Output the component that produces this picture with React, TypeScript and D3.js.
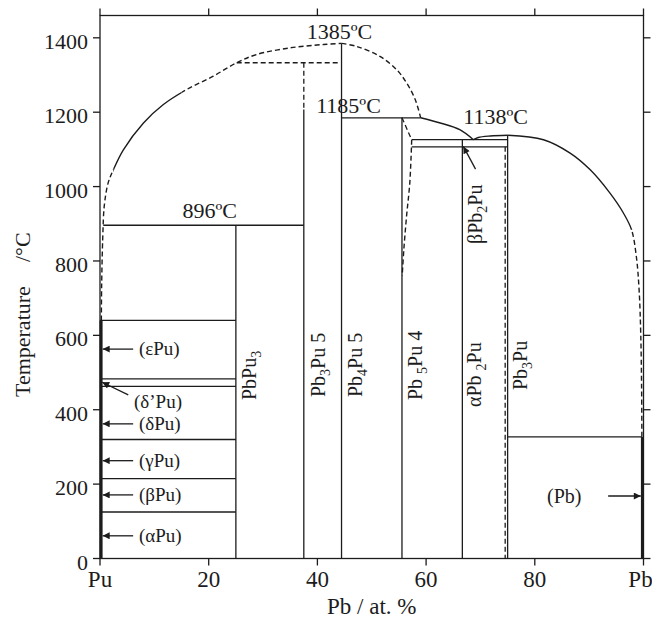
import React from "react";
import * as d3 from "d3";

const W = 652;
const H = 626;

// Axis ticks
const xTicks = [0, 20, 40, 60, 80, 100];
const xTickLabels = ["Pu", "20", "40", "60", "80", "Pb"];
const yTicks = [0, 200, 400, 600, 800, 1000, 1200, 1400];

// Liquidus, [at.% Pb, °C]
const liqLeft = [
  [0.25, 640], [0.3, 731], [0.5, 860], [0.8, 950], [1.5, 1010], [2.45, 1045], [4.3, 1099],
  [8.0, 1171], [11.6, 1220], [15.95, 1261], [20.85, 1297], [25.15, 1333], [28.8, 1355],
  [35.0, 1373], [41.1, 1382], [44.44, 1385],
];
const liqLeftSolidFrom = 2.45;
const liqLeftSolidTo = 15.0;
const liqDomeRight = [[44.44, 1385], [47.2, 1377], [51.5, 1350], [54.6, 1314], [56.4, 1279], [58.0, 1234], [59.0, 1185]];
const liqToEutectic = [[59.0, 1185], [62.6, 1171], [66.2, 1153], [68.7, 1126]];
const liqPb3PuLeft = [[68.7, 1126], [69.6, 1132], [71.8, 1136], [75, 1138]];
const liqPb3PuRight = [
  [75, 1138], [81.6, 1126], [86.5, 1090], [90.2, 1045], [93.8, 983], [96.3, 929], [97.8, 884],
  [98.7, 810], [99.2, 720], [99.5, 600], [99.65, 460], [99.7, 327],
];
const liqRightSolidAbove = 884;
const pb5pu4Range = [[57.35, 1126], [57.0, 1010], [56.4, 920], [55.9, 830], [55.6, 760]];

// Compounds: composition, upper end of the solid line
const compoundX = [25, 37.5, 44.44, 55.56, 66.67, 75];
const compoundTop = [896, 1207, 1385, 1185, 1126, 1138];

// Invariant temperatures of pure Pu (drawn from Pu to PbPu3)
const puTransitions = [640, 483, 463, 320, 215, 125];
const puPhaseLabels = ["(εPu)", "(δPu)", "(γPu)", "(βPu)", "(αPu)"];
const puPhaseTemps = [563, 362, 263, 171, 61];

const tempLabels = ["1385ºC", "1185ºC", "1138ºC", "896ºC"];
const tempValues = [1385, 1185, 1138, 896];

const x = d3.scaleLinear().domain([0, 100]).range([100, 643.5]);
const y = d3.scaleLinear().domain([0, 1460]).range([558.5, 15.5]);

const INK = "#1c1c1c";
const FONT = "'Liberation Serif', 'Times New Roman', serif";
const DASH = "5 3";

const curve = d3
  .line<number[]>()
  .x((d) => x(d[0]))
  .y((d) => y(d[1]))
  .curve(d3.curveCatmullRom.alpha(0.5));

function Seg({ x1, t1, x2, t2, dashed = false, w = 1.3 }: any) {
  return (
    <line
      x1={x(x1)}
      y1={y(t1)}
      x2={x(x2)}
      y2={y(t2)}
      stroke={INK}
      strokeWidth={w}
      strokeDasharray={dashed ? DASH : undefined}
    />
  );
}

function Curve({ pts, dashed = false, clip }: any) {
  return (
    <path
      d={curve(pts) || ""}
      fill="none"
      stroke={INK}
      strokeWidth={1.4}
      strokeDasharray={dashed ? DASH : undefined}
      clipPath={clip ? `url(#${clip})` : undefined}
    />
  );
}

function Arrow({ x1, t1, x2, t2 }: any) {
  return (
    <line
      x1={x(x1)}
      y1={y(t1)}
      x2={x(x2)}
      y2={y(t2)}
      stroke={INK}
      strokeWidth={1.3}
      markerEnd="url(#ah)"
    />
  );
}

// Vertical compound label with a subscript part
function Formula({ px, py, pre, sub, post }: any) {
  return (
    <text
      transform={`translate(${px},${py}) rotate(-90)`}
      fontFamily={FONT}
      fontSize={20}
      fill={INK}
    >
      <tspan>{pre}</tspan>
      <tspan fontSize={14} dy={5}>{sub}</tspan>
      <tspan dy={-5}>{post}</tspan>
    </text>
  );
}

export default function App() {
  const xL = x(0);
  const xR = x(100);
  const yB = y(0);
  const yT = 15.5;
  const tick = 7;

  const xs1 = x(liqLeftSolidFrom);
  const xs2 = x(liqLeftSolidTo);
  const yr = y(liqRightSolidAbove);

  return (
    <svg
      width={W}
      height={H}
      viewBox={`0 0 ${W} ${H}`}
      style={{ position: "absolute", left: 0, top: 0, background: "#fff" }}
    >
      <defs>
        <marker
          id="ah"
          viewBox="0 0 10 10"
          refX={10}
          refY={5}
          markerUnits="userSpaceOnUse"
          markerWidth={11}
          markerHeight={7}
          orient="auto"
        >
          <path d="M0,0 L10,5 L0,10 z" fill={INK} />
        </marker>
        <clipPath id="leftSolid">
          <rect x={xs1} y={0} width={xs2 - xs1} height={H} />
        </clipPath>
        <clipPath id="leftDashed">
          <rect x={0} y={0} width={xs1} height={H} />
          <rect x={xs2} y={0} width={W - xs2} height={H} />
        </clipPath>
        <clipPath id="rightSolid">
          <rect x={0} y={0} width={W} height={yr} />
        </clipPath>
        <clipPath id="rightDashed">
          <rect x={0} y={yr} width={W} height={H - yr} />
        </clipPath>
      </defs>

      {/* frame */}
      <rect x={xL} y={yT} width={xR - xL} height={yB - yT} fill="none" stroke={INK} strokeWidth={1.3} />

      {/* ticks */}
      {xTicks.map((v) => (
        <g key={"xt" + v}>
          <line x1={x(v)} x2={x(v)} y1={yB} y2={yB + tick} stroke={INK} strokeWidth={1.3} />
          <line x1={x(v)} x2={x(v)} y1={yT} y2={yT - tick} stroke={INK} strokeWidth={1.3} />
        </g>
      ))}
      {yTicks.map((v) => (
        <g key={"yt" + v}>
          <line x1={xL} x2={xL - tick} y1={y(v)} y2={y(v)} stroke={INK} strokeWidth={1.3} />
          <line x1={xR} x2={xR + tick} y1={y(v)} y2={y(v)} stroke={INK} strokeWidth={1.3} />
        </g>
      ))}

      {/* tick labels */}
      {xTicks.map((v, i) => (
        <text
          key={"xl" + v}
          x={v === 100 ? x(v) - 3 : x(v)}
          y={587}
          textAnchor="middle"
          fontFamily={FONT}
          fontSize={23}
          fill={INK}
        >
          {xTickLabels[i]}
        </text>
      ))}
      {yTicks.map((v) => (
        <text key={"yl" + v} x={88} y={y(v) + 11} textAnchor="end" fontFamily={FONT} fontSize={22} fill={INK}>
          {v}
        </text>
      ))}

      {/* axis titles */}
      <text x={x(50)} y={614} textAnchor="middle" fontFamily={FONT} fontSize={23} fill={INK}>
        Pb / at. %
      </text>
      <text transform="translate(29.5,397) rotate(-90)" fontFamily={FONT} fontSize={22} fill={INK}>
        Temperature
      </text>
      <text transform="translate(29.5,262) rotate(-90)" fontFamily={FONT} fontSize={22} fill={INK}>
        /°C
      </text>

      {/* pure Pu and pure Pb solid solutions */}
      <Seg x1={0.2} t1={0} x2={0.2} t2={640} w={3} />
      <Seg x1={99.8} t1={0} x2={99.8} t2={327} w={3} />

      {/* Pu allotropic transitions */}
      {puTransitions.map((t) => (
        <Seg key={"pt" + t} x1={0} t1={t} x2={25} t2={t} />
      ))}

      {/* eutectic / peritectic horizontals */}
      <Seg x1={0.6} t1={896} x2={37.5} t2={896} />
      <Seg x1={25.15} t1={1333} x2={44.0} t2={1333} dashed />
      <Seg x1={44.44} t1={1185} x2={59.0} t2={1185} />
      <Seg x1={57.35} t1={1126} x2={75} t2={1126} />
      <Seg x1={57.35} t1={1107} x2={75} t2={1107} />
      <Seg x1={75} t1={327} x2={99.7} t2={327} />

      {/* compound lines */}
      {compoundX.map((c, i) =>
        c === 37.5 ? (
          <g key={"c" + c}>
            <Seg x1={c} t1={1333} x2={c} t2={1207} dashed />
            <Seg x1={c} t1={1207} x2={c} t2={0} />
          </g>
        ) : (
          <Seg key={"c" + c} x1={c} t1={compoundTop[i]} x2={c} t2={0} />
        )
      )}
      <Seg x1={74.55} t1={1107} x2={74.55} t2={0} dashed />

      {/* Pb5Pu4 homogeneity range */}
      <Seg x1={55.56} t1={1185} x2={57.35} t2={1126} dashed />
      <Curve pts={pb5pu4Range} dashed />

      {/* liquidus */}
      <Curve pts={liqLeft} dashed clip="leftDashed" />
      <Curve pts={liqLeft} clip="leftSolid" />
      <Curve pts={liqDomeRight} dashed />
      <Curve pts={liqToEutectic} />
      <Curve pts={liqPb3PuLeft} />
      <Curve pts={liqPb3PuRight} clip="rightSolid" />
      <Curve pts={liqPb3PuRight} dashed clip="rightDashed" />

      {/* invariant temperature labels */}
      {tempLabels.map((s, i) => {
        const pos = [
          [x(44.44) - 2, y(tempValues[0]) - 4],
          [x(44.44) + 7, y(tempValues[1]) - 5],
          [x(72.8), y(tempValues[2]) - 11],
          [x(20.2), y(tempValues[3]) - 7],
        ][i];
        return (
          <text key={s} x={pos[0]} y={pos[1]} textAnchor="middle" fontFamily={FONT} fontSize={22} fill={INK}>
            {s}
          </text>
        );
      })}

      {/* Pu phase labels with arrows */}
      {puPhaseLabels.map((s, i) => (
        <g key={s}>
          <Arrow x1={6.1} t1={puPhaseTemps[i]} x2={0.5} t2={puPhaseTemps[i]} />
          <text x={139} y={y(puPhaseTemps[i]) + 6} fontFamily={FONT} fontSize={19} fill={INK}>
            {s}
          </text>
        </g>
      ))}
      <Arrow x1={5.2} t1={440} x2={0.4} t2={474} />
      <text x={134} y={408} fontFamily={FONT} fontSize={19} fill={INK}>
        (δ’Pu)
      </text>

      {/* Pb solid solution */}
      <text x={547} y={y(168) + 7} fontFamily={FONT} fontSize={20} fill={INK}>
        (Pb)
      </text>
      <Arrow x1={93.5} t1={168} x2={99.5} t2={168} />

      {/* βPb2Pu arrow */}
      <Arrow x1={69.1} t1={1047} x2={66.85} t2={1108} />

      {/* compound labels */}
      <Formula px={x(25) + 20} py={400} pre="PbPu" sub="3" post="" />
      <Formula px={x(37.5) + 21} py={397} pre="Pb" sub="3" post="Pu 5" />
      <Formula px={x(44.44) + 20} py={397} pre="Pb" sub="4" post="Pu 5" />
      <Formula px={x(55.56) + 20} py={400} pre="Pb " sub="5" post="Pu 4" />
      <Formula px={x(66.67) + 19} py={407} pre="αPb " sub="2" post="Pu" />
      <Formula px={x(66.67) + 20} py={244} pre="βPb" sub="2" post="Pu" />
      <Formula px={x(75) + 19} py={390} pre="Pb" sub="3" post="Pu" />
    </svg>
  );
}
